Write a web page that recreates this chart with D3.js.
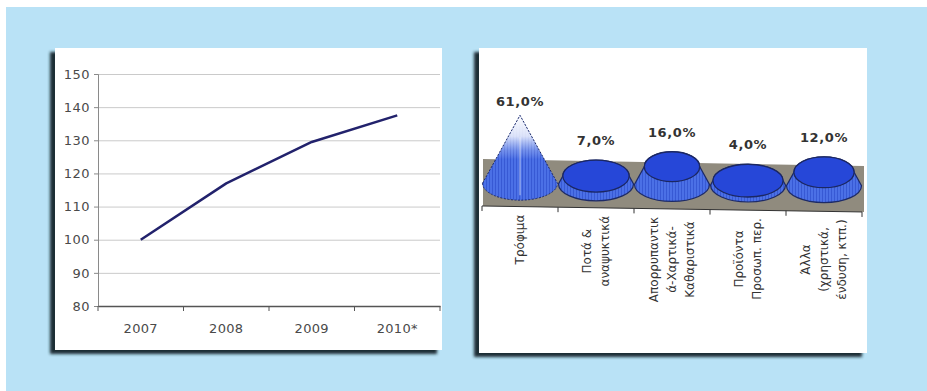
<!DOCTYPE html>
<html>
<head>
<meta charset="utf-8">
<script src="https://cdn.jsdelivr.net/npm/d3@7/dist/d3.min.js"></script>
<style>
  html, body { margin: 0; padding: 0; background: #b9e2f6; }
  svg { display: block; }
</style>
</head>
<body>
<svg id="chart" width="927" height="391"></svg>
<script>
// Price index, 2007 = 100
const years = ["2007", "2008", "2009", "2010*"];
const indexValues = [100, 117, 129.5, 137.5];
const yTicks = [80, 90, 100, 110, 120, 130, 140, 150];

// Share of spending by product category (%)
const categories = [
  "Τρόφιμα",
  "Ποτά &\nαναψυκτικά",
  "Απορρυπαντικ\nά-Χαρτικά-\nΚαθαριστικά",
  "Προϊόντα\nΠροσωπ. περ.",
  "Άλλα\n(χρηστικά,\nένδυση, κτπ.)"
];
const shares = [61, 7, 16, 4, 12];

const svg = d3.select("#chart");
const defs = svg.append("defs");

// page background with thin white margin at top and left
svg.append("rect").attr("width", 927).attr("height", 391).attr("fill", "#b9e2f6");
svg.append("rect").attr("width", 927).attr("height", 7).attr("fill", "#ffffff");
svg.append("rect").attr("width", 6).attr("height", 391).attr("fill", "#ffffff");

// soft shadow behind the panels
defs.append("filter").attr("id", "soft").attr("x", "-10%").attr("y", "-10%")
  .attr("width", "120%").attr("height", "120%")
  .append("feGaussianBlur").attr("stdDeviation", 1.4);

function panel(x, y, w, h) {
  svg.append("rect").attr("x", x - 5).attr("y", y + 4).attr("width", w).attr("height", h)
    .attr("fill", "#1f2d34").attr("filter", "url(#soft)");
  svg.append("rect").attr("x", x).attr("y", y).attr("width", w).attr("height", h)
    .attr("fill", "#ffffff");
}
panel(55, 48, 387, 302);
panel(479, 48, 388, 305);

// ---------- Line chart ----------
const x = d3.scaleBand().domain(years).range([98, 440]);
const y = d3.scaleLinear().domain([80, 150]).range([306, 74]);
const left = svg.append("g");

const grid = left.append("g").attr("transform", "translate(98,0)")
  .call(d3.axisLeft(y).tickValues(yTicks).tickSize(-342).tickFormat(""));
grid.select(".domain").remove();
grid.selectAll("line").attr("stroke", "#cacaca").attr("stroke-width", 1);

const yAxis = left.append("g").attr("transform", "translate(98,0)")
  .call(d3.axisLeft(y).tickValues(yTicks).tickSize(4).tickPadding(4));
yAxis.select(".domain").attr("stroke", "#8a8a8a");
yAxis.selectAll("line").attr("stroke", "#8a8a8a");
yAxis.selectAll("text").attr("fill", "#4a4a4a").style("font-family", "'DejaVu Sans', Verdana, sans-serif")
  .style("font-size", "13px").style("letter-spacing", "0.5px");

const xAxis = left.append("g").attr("transform", "translate(0,306)")
  .call(d3.axisBottom(x).tickSize(0).tickPadding(18));
xAxis.select(".domain").attr("stroke", "#555").attr("stroke-width", 1.5);
xAxis.selectAll("text").attr("fill", "#4a4a4a").style("font-family", "'DejaVu Sans', Verdana, sans-serif")
  .style("font-size", "13px").style("letter-spacing", "0.3px");
// category boundary ticks
const bounds = years.map(d => x(d)).concat([x(years[years.length - 1]) + x.bandwidth()]);
left.append("g").selectAll("line").data(bounds).join("line")
  .attr("x1", d => d).attr("x2", d => d).attr("y1", 306).attr("y2", 311)
  .attr("stroke", "#555").attr("stroke-width", 1);

left.append("path")
  .datum(indexValues)
  .attr("fill", "none")
  .attr("stroke", "#22226c")
  .attr("stroke-width", 2.5)
  .attr("stroke-linejoin", "round")
  .attr("d", d3.line()
    .x((d, i) => x(years[i]) + x.bandwidth() / 2)
    .y(d => y(d)));

// ---------- 3D cone chart ----------
const right = svg.append("g");
const band = d3.scaleBand().domain(d3.range(shares.length)).range([482, 862]);
const R = 37.5;
const hScale = d3.scaleLinear().domain([0, 61]).range([0, 68]);
const rScale = d3.scaleLinear().domain([0, 61]).range([R, 0]);
const baseY = d3.scaleLinear().domain([482, 862]).range([183, 186]);
const floorTop = d3.scaleLinear().domain([483, 864]).range([159, 166]);
const floorBot = d3.scaleLinear().domain([483, 864]).range([206, 212]);
const ryOf = r => 0.25 * R + 0.2 * r;

// hatch texture for the shaded sides
const hatch = defs.append("pattern").attr("id", "hatch").attr("patternUnits", "userSpaceOnUse")
  .attr("width", 3).attr("height", 6);
hatch.append("rect").attr("width", 3).attr("height", 6).attr("fill", "#4b70e6");
hatch.append("rect").attr("width", 1).attr("height", 6).attr("fill", "#3759d4");

// fade of the tall cone toward its tip
const fade = defs.append("linearGradient").attr("id", "fade").attr("gradientUnits", "userSpaceOnUse")
  .attr("x1", 0).attr("x2", 0).attr("y1", 115).attr("y2", 200);
fade.append("stop").attr("offset", "0%").attr("stop-color", "#ffffff").attr("stop-opacity", 1);
fade.append("stop").attr("offset", "25%").attr("stop-color", "#ffffff").attr("stop-opacity", 0.8);
fade.append("stop").attr("offset", "42%").attr("stop-color", "#e4ecfc").attr("stop-opacity", 0.25);
fade.append("stop").attr("offset", "52%").attr("stop-color", "#ffffff").attr("stop-opacity", 0);
fade.append("stop").attr("offset", "100%").attr("stop-color", "#ffffff").attr("stop-opacity", 0);

// floor / wall band
right.append("path")
  .attr("d", `M483,${floorTop(483)} L864,${floorTop(864)} L864,${floorBot(864)} L483,${floorBot(483)} Z`)
  .attr("fill", "#908b7e");

// category axis along the floor edge
right.append("line")
  .attr("x1", 482).attr("y1", floorBot(482)).attr("x2", 862).attr("y2", floorBot(862))
  .attr("stroke", "#333").attr("stroke-width", 1);
const cb = shares.map((d, i) => band(i)).concat([band(shares.length - 1) + band.bandwidth()]);
right.append("g").selectAll("line").data(cb).join("line")
  .attr("x1", d => d).attr("x2", d => d)
  .attr("y1", d => floorBot(d)).attr("y2", d => floorBot(d) + 5)
  .attr("stroke", "#333");

const fmt = d3.format(".1f");
shares.forEach((v, i) => {
  const c = band(i) + band.bandwidth() / 2;
  const by = baseY(c);
  const r = rScale(v);
  const ty = by - hScale(v);
  const ryB = ryOf(R);
  const ryT = ryOf(r);
  const g = right.append("g");
  let d = `M${c - R},${by} A${R},${ryB} 0 0 0 ${c + R},${by}`;
  if (r > 0.5) {
    d += ` L${c + r},${ty} A${r},${ryT} 0 0 0 ${c - r},${ty} Z`;
  } else {
    d += ` L${c},${ty} Z`;
  }
  g.append("path").attr("d", d).attr("fill", "url(#hatch)");
  if (r > 0.5) {
    g.append("path").attr("d", d).attr("fill", "none").attr("stroke", "#1d2a66").attr("stroke-width", 1.2);
    g.append("ellipse").attr("cx", c).attr("cy", ty).attr("rx", r).attr("ry", ryT)
      .attr("fill", "#2647d8").attr("stroke", "#1b2762").attr("stroke-width", 1.3);
  } else {
    g.append("path").attr("d", d).attr("fill", "url(#fade)");
    g.append("line").attr("x1", c).attr("x2", c).attr("y1", ty + 22).attr("y2", by + 12)
      .attr("stroke", "#ffffff").attr("stroke-opacity", 0.3).attr("stroke-width", 2);
    g.append("path").attr("d", d).attr("fill", "none").attr("stroke", "#1d2a66")
      .attr("stroke-width", 1).attr("stroke-dasharray", "2,1.5");
  }
  const ly = r > 0.5 ? ty - ryT - 15 : ty - 9;
  right.append("text").attr("x", c).attr("y", ly).attr("text-anchor", "middle")
    .attr("fill", "#333")
    .style("font-family", "'DejaVu Sans', Verdana, sans-serif")
    .style("font-size", "13px").style("font-weight", "bold").style("letter-spacing", "0.6px")
    .text(fmt(v).replace(".", ",") + "%");

  // rotated category label, lines centred on each other
  const lines = categories[i].split("\n");
  const lg = right.append("g").attr("transform", `translate(${c},${floorBot(c) + 8}) rotate(-90)`);
  const lh = 18;
  const texts = lines.map((t, k) => lg.append("text")
    .attr("y", (k - (lines.length - 1) / 2) * lh)
    .attr("dy", "0.35em")
    .attr("text-anchor", "middle")
    .attr("fill", "#333")
    .style("font-family", "'DejaVu Sans', Verdana, sans-serif")
    .style("font-size", "12px")
    .text(t));
  const maxLen = d3.max(texts, t => t.node().getComputedTextLength());
  texts.forEach(t => t.attr("x", -maxLen / 2));
});
</script>
</body>
</html>
